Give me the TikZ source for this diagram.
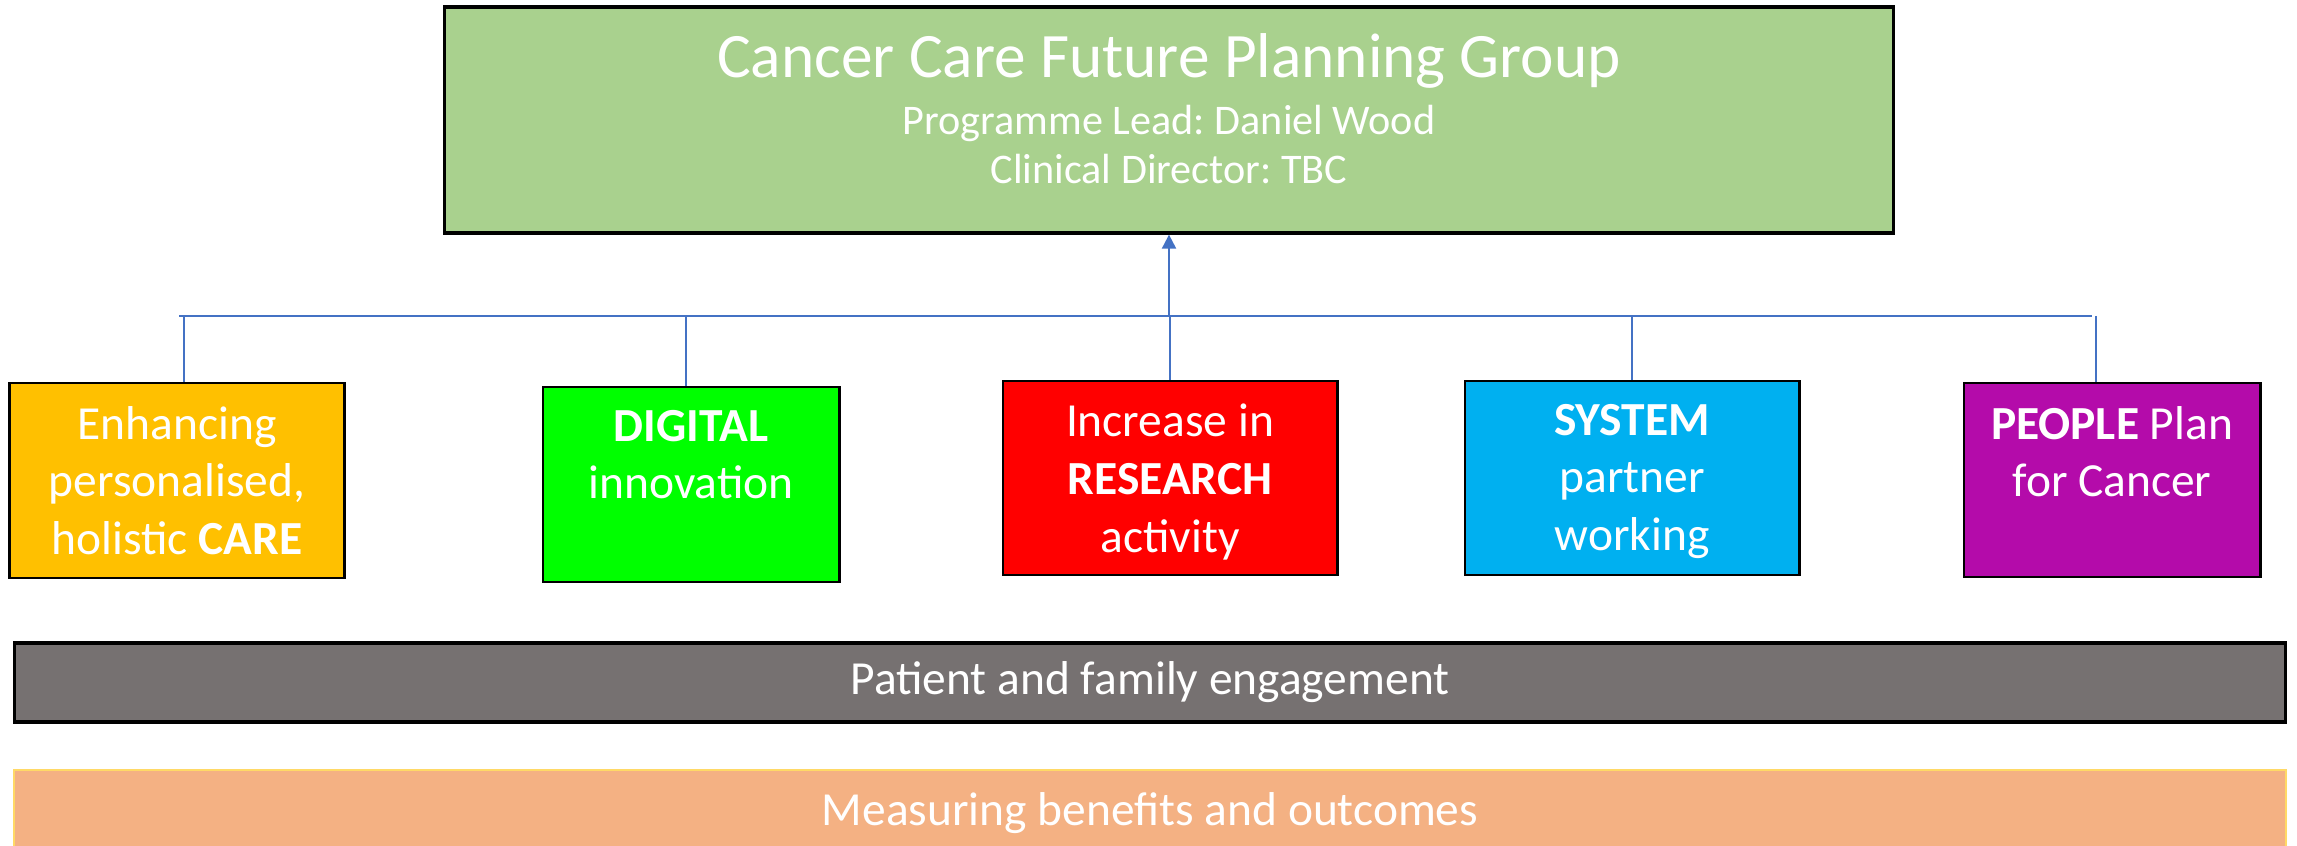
\documentclass[tikz,border=0pt]{standalone}
\usepackage{fontspec}
\setmainfont{Carlito}
\frenchspacing
\usetikzlibrary{arrows.meta,positioning}
\definecolor{groupgreen}{HTML}{A9D18E}
\definecolor{careorange}{HTML}{FFC000}
\definecolor{digitalgreen}{HTML}{00FF00}
\definecolor{researchred}{HTML}{FF0000}
\definecolor{systemblue}{HTML}{00B0F0}
\definecolor{peoplepurple}{HTML}{B40BAA}
\definecolor{patientgrey}{HTML}{767171}
\definecolor{benefitpeach}{HTML}{F4B183}
\definecolor{benefitgold}{HTML}{FFD966}
\definecolor{buslink}{HTML}{4472C4}
\tikzset{
  pillar/.style={draw=black, line width=0.8pt, inner sep=0pt, minimum height=1.95cm},
  pillartext/.style={text=white, align=center, inner sep=0pt, font=\fontsize{13.5}{16.4}\selectfont},
  bar/.style={inner sep=0pt, text=white, minimum width=22.7cm, font=\fontsize{13.5}{16.4}\selectfont},
  bus/.style={draw=buslink, line width=0.45pt}
}
\begin{document}
\begin{tikzpicture}[x=0.01cm,y=-0.01cm]
  \useasboundingbox (0,0) rectangle (2297,846);%
  % planning group
  \node[draw=black, line width=0.9pt, fill=groupgreen, minimum width=14.48cm, minimum height=2.26cm, inner sep=0pt] (group) at (1169,120) {};%
  \node[text=white, align=center, inner sep=0pt, font=\fontsize{12}{14.2}\selectfont, below=7.7pt of group.north] (grouptext) {{\fontsize{18}{21.6}\selectfont Cancer Care Future Planning Group}\\[2pt] Programme Lead: Daniel Wood\\ Clinical Director: TBC};%
  % pillars
  \node[pillar, fill=careorange, minimum width=3.34cm] (care) at (177,480.5) {};%
  \node[pillar, fill=digitalgreen, minimum width=2.96cm] (digital) at (691,484.5) {};%
  \node[pillar, fill=researchred, minimum width=3.34cm, minimum height=1.94cm] (research) at (1170,478) {};%
  \node[pillar, fill=systemblue, minimum width=3.34cm, minimum height=1.94cm] (system) at (1632,478) {};%
  \node[pillar, fill=peoplepurple, minimum width=2.96cm, minimum height=1.94cm] (people) at (2112,480) {};%
  \node[pillartext, below=6.8pt of care.north] (caretext) {Enhancing\\personalised,\\holistic \textbf{CARE}};%
  \node[pillartext, below=6.8pt of digital.north] (digitaltext) {\textbf{DIGITAL}\\innovation};%
  \node[pillartext, below=6.8pt of research.north] (researchtext) {Increase in\\\textbf{RESEARCH}\\activity};%
  \node[pillartext, below=6.8pt of system.north] (systemtext) {\textbf{SYSTEM}\\partner\\working};%
  \node[pillartext, below=6.8pt of people.north] (peopletext) {\textbf{PEOPLE} Plan\\for Cancer};%
  % bars
  \node[bar, fill=patientgrey, draw=black, line width=0.9pt, minimum height=0.79cm] (patient) at (1150,682.5) {Patient and family engagement};%
  \node[bar, fill=benefitpeach, draw=benefitgold, line width=0.6pt, minimum height=0.86cm] (benefits) at (1150,813) {Measuring benefits and outcomes};%
  % links
  \coordinate (busleft) at (179,316);%
  \coordinate (busright) at (2092,316);%
  \draw[bus] (busleft) -- (busright);%
  \draw[bus, line width=0.6pt, -{Triangle[length=4pt,width=4pt]}] (group.south |- busleft) -- (group.south);%
  \foreach \x/\n in {184/care,686/digital,1170/research,1632/system,2096/people}
    {\coordinate (drop\n) at (\x,316); \draw[bus] (drop\n) -- (drop\n |- \n.north);}%
\end{tikzpicture}
\end{document}
